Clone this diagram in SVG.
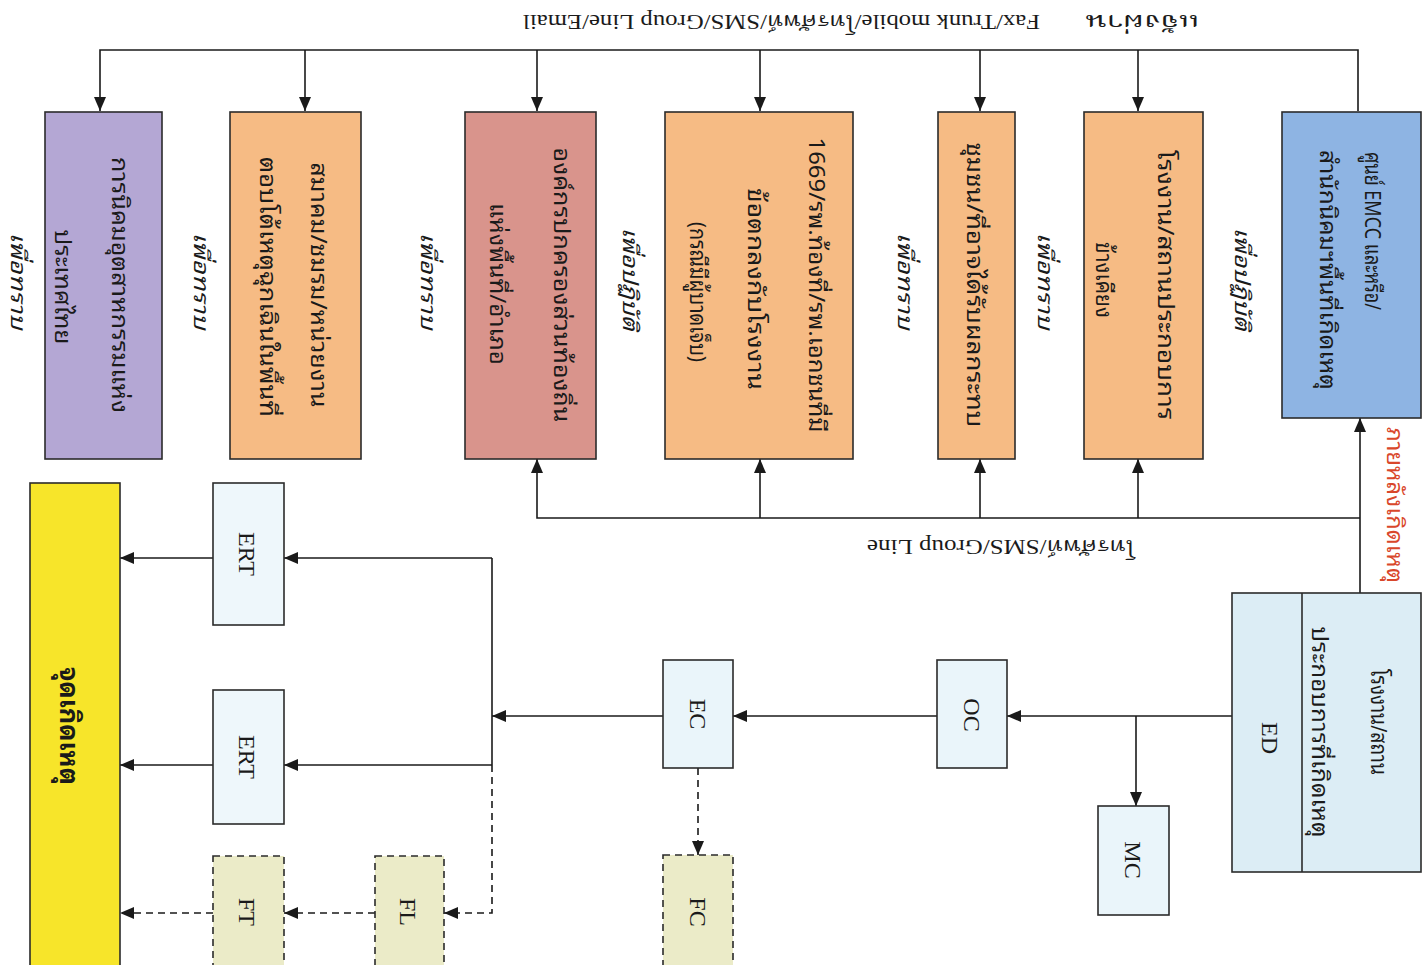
<svg xmlns="http://www.w3.org/2000/svg" width="1427" height="965" viewBox="0 0 1427 965">
<style>
.box{stroke:#2b2b2b;stroke-width:1.6}
.dash{stroke-dasharray:7,5}
.ln{fill:none;stroke:#1a1a1a;stroke-width:1.6}
.th{font-family:"Noto Sans Thai Looped","Noto Sans Thai","Noto Sans Thai UI","Loma","Garuda","Liberation Sans",sans-serif;font-size:22px;fill:#1a1a1a;text-anchor:middle;dominant-baseline:central}
.it{font-family:"Noto Sans Thai Looped","Noto Serif Thai","Norasi","Noto Sans Thai","Liberation Serif",serif;font-style:italic;font-size:21px;fill:#1a1a1a;text-anchor:middle;dominant-baseline:central}
.lt{font-family:"Liberation Serif","Noto Serif Thai","Noto Sans Thai",serif;font-size:24px;fill:#1a1a1a;text-anchor:middle;dominant-baseline:central}
.hl{font-family:"Liberation Serif","Noto Serif Thai","Noto Sans Thai",serif;font-size:20px;fill:#1a1a1a;dominant-baseline:central}
</style>
<defs>
<marker id="ah" markerUnits="userSpaceOnUse" markerWidth="14" markerHeight="12" refX="14" refY="6" orient="auto">
<path d="M0,0 L14,6 L0,12 z" fill="#1a1a1a"/>
</marker>
</defs>
<rect width="1427" height="965" fill="#ffffff"/>

<g id="connectors">
<path class="ln" d="M1358,111 V50 H100 V111" marker-end="url(#ah)"/>
<path class="ln" d="M305,50 V111" marker-end="url(#ah)"/>
<path class="ln" d="M537,50 V111" marker-end="url(#ah)"/>
<path class="ln" d="M760,50 V111" marker-end="url(#ah)"/>
<path class="ln" d="M980,50 V111" marker-end="url(#ah)"/>
<path class="ln" d="M1138,50 V111" marker-end="url(#ah)"/>
<path class="ln" d="M1360,593 V418" marker-end="url(#ah)"/>
<path class="ln" d="M1360,518 H537 V459" marker-end="url(#ah)"/>
<path class="ln" d="M760,518 V459" marker-end="url(#ah)"/>
<path class="ln" d="M980,518 V459" marker-end="url(#ah)"/>
<path class="ln" d="M1138,518 V459" marker-end="url(#ah)"/>
<path class="ln" d="M1232,716 H1007" marker-end="url(#ah)"/>
<path class="ln" d="M1136,716 V806" marker-end="url(#ah)"/>
<path class="ln" d="M937,716 H733" marker-end="url(#ah)"/>
<path class="ln" d="M663,716 H492" marker-end="url(#ah)"/>
<path class="ln" d="M492,558 V765"/>
<path class="ln" d="M492,558 H284" marker-end="url(#ah)"/>
<path class="ln" d="M492,765 H284" marker-end="url(#ah)"/>
<path class="ln" d="M213,558 H120" marker-end="url(#ah)"/>
<path class="ln" d="M213,765 H120" marker-end="url(#ah)"/>
<path class="ln dash" d="M492,765 V913 H444" marker-end="url(#ah)"/>
<path class="ln dash" d="M375,913 H284" marker-end="url(#ah)"/>
<path class="ln dash" d="M213,913 H120" marker-end="url(#ah)"/>
<path class="ln dash" d="M698,768 V855" marker-end="url(#ah)"/>
</g>

<g id="label-top">
<text class="hl" transform="translate(1200,22) rotate(180)" style="font-size:22px" textLength="115" lengthAdjust="spacingAndGlyphs">แจ้งผ่าน</text>
<text class="hl" transform="translate(1040,22) rotate(180)" textLength="517" lengthAdjust="spacingAndGlyphs">Fax/Trunk mobile/โทรศัพท์/SMS/Group Line/Email</text>
</g>
<g id="label-bus">
<text class="hl" transform="translate(1135,547) rotate(180)" textLength="268" lengthAdjust="spacingAndGlyphs">โทรศัพท์/SMS/Group Line</text>
</g>

<g id="emcc">
<rect class="box" x="1282" y="112" width="139" height="306" fill="#8eb4e3"/>
<text class="th" transform="translate(1375,152) rotate(90)" style="text-anchor:start" textLength="158" lengthAdjust="spacingAndGlyphs">ศูนย์ EMCC และหรือ/</text>
<text class="th" transform="translate(1330,270) rotate(90)" textLength="240" lengthAdjust="spacingAndGlyphs">สำนักนิคมฯพื้นที่เกิดเหตุ</text>
</g>
<g id="neighbor">
<rect class="box" x="1084" y="112" width="119" height="347" fill="#f6bb84"/>
<text class="th" transform="translate(1168,285) rotate(90)" textLength="270" lengthAdjust="spacingAndGlyphs">โรงงาน/สถานประกอบการ</text>
<text class="th" transform="translate(1106,280) rotate(90)" textLength="76" lengthAdjust="spacingAndGlyphs">ข้างเคียง</text>
</g>
<g id="community">
<rect class="box" x="938" y="112" width="77" height="347" fill="#f6bb84"/>
<text class="th" transform="translate(977,285) rotate(90)" textLength="285" lengthAdjust="spacingAndGlyphs">ชุมชน/ที่อาจได้รับผลกระทบ</text>
</g>
<g id="hospital">
<rect class="box" x="665" y="112" width="188" height="347" fill="#f6bb84"/>
<text class="th" transform="translate(819,285) rotate(90)" textLength="295" lengthAdjust="spacingAndGlyphs">1669/รพ.ท้องที่/รพ.เอกชนที่มี</text>
<text class="th" transform="translate(758,289) rotate(90)" textLength="202" lengthAdjust="spacingAndGlyphs">ข้อตกลงกับโรงงาน</text>
<text class="th" transform="translate(700,292) rotate(90)" textLength="140" lengthAdjust="spacingAndGlyphs">(กรณีมีผู้บาดเจ็บ)</text>
</g>
<g id="local-gov">
<rect class="box" x="465" y="112" width="131" height="347" fill="#d9948c"/>
<text class="th" transform="translate(564,285) rotate(90)" textLength="275" lengthAdjust="spacingAndGlyphs">องค์กรปกครองส่วนท้องถิ่น</text>
<text class="th" transform="translate(500,284) rotate(90)" textLength="162" lengthAdjust="spacingAndGlyphs">แห่งพื้นที่/อำเภอ</text>
</g>
<g id="association">
<rect class="box" x="230" y="112" width="131" height="347" fill="#f6bb84"/>
<text class="th" transform="translate(321,285) rotate(90)" textLength="245" lengthAdjust="spacingAndGlyphs">สมาคม/ชมรม/หน่วยงาน</text>
<text class="th" transform="translate(270,287) rotate(90)" textLength="260" lengthAdjust="spacingAndGlyphs">ตอบโต้เหตุฉุกเฉินในพื้นที่</text>
</g>
<g id="ieat">
<rect class="box" x="45" y="112" width="117" height="347" fill="#b4a7d4"/>
<text class="th" transform="translate(122,285) rotate(90)" textLength="256" lengthAdjust="spacingAndGlyphs">การนิคมอุตสาหกรรมแห่ง</text>
<text class="th" transform="translate(65,287) rotate(90)" textLength="115" lengthAdjust="spacingAndGlyphs">ประเทศไทย</text>
</g>

<g id="purpose-labels">
<text class="it" transform="translate(1244,279) rotate(90)" textLength="103" lengthAdjust="spacingAndGlyphs">เพื่อปฏิบัติ</text>
<text class="it" transform="translate(1047,281) rotate(90)" textLength="97" lengthAdjust="spacingAndGlyphs">เพื่อทราบ</text>
<text class="it" transform="translate(907,281) rotate(90)" textLength="97" lengthAdjust="spacingAndGlyphs">เพื่อทราบ</text>
<text class="it" transform="translate(632,279) rotate(90)" textLength="103" lengthAdjust="spacingAndGlyphs">เพื่อปฏิบัติ</text>
<text class="it" transform="translate(430,281) rotate(90)" textLength="97" lengthAdjust="spacingAndGlyphs">เพื่อทราบ</text>
<text class="it" transform="translate(203,281) rotate(90)" textLength="97" lengthAdjust="spacingAndGlyphs">เพื่อทราบ</text>
<text class="it" transform="translate(20,281) rotate(90)" textLength="97" lengthAdjust="spacingAndGlyphs">เพื่อทราบ</text>
</g>
<g id="after-label">
<text class="th" transform="translate(1397,505) rotate(90)" style="fill:#d9472b" textLength="156" lengthAdjust="spacingAndGlyphs">ภายหลังเกิดเหตุ</text>
</g>

<g id="ed">
<rect class="box" x="1232" y="593" width="189" height="279" fill="#dcedf5"/>
<line class="box" x1="1302" y1="593" x2="1302" y2="872"/>
<text class="th" transform="translate(1381,722) rotate(90)" textLength="106" lengthAdjust="spacingAndGlyphs">โรงงาน/สถาน</text>
<text class="th" transform="translate(1322,732) rotate(90)" textLength="211" lengthAdjust="spacingAndGlyphs">ประกอบการที่เกิดเหตุ</text>
<text class="lt" transform="translate(1270,738) rotate(90)">ED</text>
</g>
<g id="mc">
<rect class="box" x="1098" y="806" width="71" height="109" fill="#eaf5fa"/>
<text class="lt" transform="translate(1133,860) rotate(90)">MC</text>
</g>
<g id="oc">
<rect class="box" x="937" y="660" width="70" height="108" fill="#eaf5fa"/>
<text class="lt" transform="translate(972,715) rotate(90)">OC</text>
</g>
<g id="ec">
<rect class="box" x="663" y="660" width="70" height="108" fill="#eaf5fa"/>
<text class="lt" transform="translate(698,714) rotate(90)">EC</text>
</g>
<g id="fc">
<rect class="box dash" x="663" y="855" width="70" height="112" fill="#ebebc8"/>
<text class="lt" transform="translate(698,912) rotate(90)">FC</text>
</g>
<g id="ert1">
<rect class="box" x="213" y="483" width="71" height="142" fill="#eef7fb"/>
<text class="lt" transform="translate(247,554) rotate(90)">ERT</text>
</g>
<g id="ert2">
<rect class="box" x="213" y="690" width="71" height="134" fill="#eef7fb"/>
<text class="lt" transform="translate(247,757) rotate(90)">ERT</text>
</g>
<g id="fl">
<rect class="box dash" x="375" y="856" width="69" height="112" fill="#ebebc8"/>
<text class="lt" transform="translate(408,912) rotate(90)">FL</text>
</g>
<g id="ft">
<rect class="box dash" x="213" y="856" width="71" height="112" fill="#ebebc8"/>
<text class="lt" transform="translate(247,912) rotate(90)">FT</text>
</g>
<g id="scene">
<rect class="box" x="30" y="483" width="90" height="485" fill="#f7e52a"/>
<text class="th" transform="translate(72,726) rotate(90)" style="font-weight:bold;font-size:26px" textLength="118" lengthAdjust="spacingAndGlyphs">จุดเกิดเหตุ</text>
</g>
</svg>
